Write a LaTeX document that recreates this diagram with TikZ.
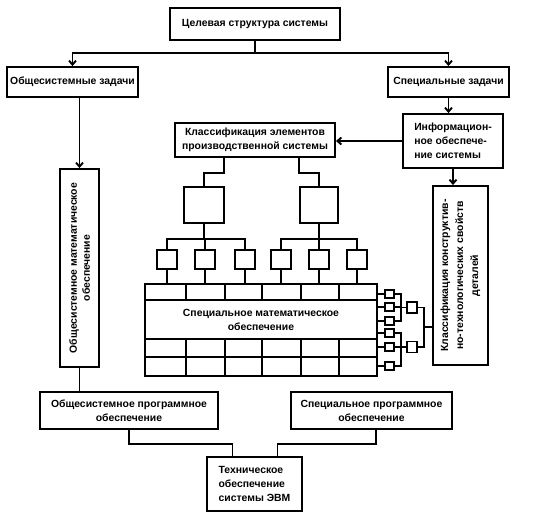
\documentclass[tikz,border=0pt]{standalone}
\usepackage{fontspec}
\setmainfont{Liberation Sans}
\usetikzlibrary{arrows.meta}

\begin{document}
\begin{tikzpicture}[x=1pt,y=-1pt,line width=1.9pt,>={Straight Barb[length=4pt,width=7pt]},
    font=\bfseries\fontsize{10.4}{14}\selectfont]
    \tikzstyle{block}=[draw,inner sep=2pt,align=center]
    \tikzstyle{cell}=[draw,inner sep=0pt,line width=1.6pt]
    \tikzstyle{mid cell}=[cell,minimum width=40pt,minimum height=36pt]
    \tikzstyle{small cell}=[cell,minimum width=20pt,minimum height=19pt]
    \tikzstyle{tiny cell}=[cell,minimum width=9.5pt,minimum height=8.5pt]

    \useasboundingbox (0,0) rectangle (534,518);

    % Draw the upper blocks
    \node[block,minimum width=170pt,minimum height=32pt] (goal) at (255,24) {Целевая структура системы};
    \node[block,minimum width=131pt,minimum height=30pt] (gentask) at (72.5,82) {Общесистемные задачи};
    \node[block,minimum width=121pt,minimum height=30pt] (spectask) at (448.5,82) {Специальные задачи};
    \node[block,minimum width=100pt,minimum height=54pt,align=left] (info) at (453,141)
        {Информацион-\\ное обеспече-\\ние системы};
    \node[block,minimum width=160pt,minimum height=34pt] (klass) at (255,140)
        {Классификация элементов\\производственной системы};

    % Draw the two tall blocks, text turned upwards
    \node[block,minimum width=39pt,minimum height=198pt] (genmath) at (79.5,268) {};
    \node[rotate=90,align=center,font=\bfseries\fontsize{10.4}{13}\selectfont] at (genmath)
        {Общесистемное математическое\\обеспечение};
    \node[block,minimum width=55pt,minimum height=179pt] (detail) at (460.5,275.5) {};
    \node[rotate=90,align=center,font=\bfseries\fontsize{10.4}{15}\selectfont] at (detail)
        {Классификация конструктив-\\но-технологических свойств\\деталей};

    % Draw the lower blocks
    \node[block,minimum width=178pt,minimum height=37pt] (genprog) at (129,410.5)
        {Общесистемное программное\\обеспечение};
    \node[block,minimum width=161pt,minimum height=37pt] (specprog) at (371.5,410.5)
        {Специальное программное\\обеспечение};
    \node[block,minimum width=95pt,minimum height=54pt,align=left] (tech) at (254.5,484)
        {Техническое\\обеспечение\\системы ЭВМ};

    % Draw the tree of element cells
    \node[mid cell] (m1) at (204,205) {};
    \node[mid cell,minimum width=38pt] (m2) at (319,205) {};
    \foreach \name / \x in {1/167,2/205,3/245,4/281,5/319,6/357}
        \node[small cell] (s-\name) at (\x,259.5) {};

    % Draw the table of the special software
    \node[draw,minimum width=232pt,minimum height=92pt] (grid) at (261,330) {};
    \node[align=center] (smo) at (261,319.5) {Специальное математическое\\обеспечение};
    \foreach \y in {300,339,357}
        \draw (145,\y) -- (377,\y);
    \foreach \x in {186,225,262,301,339} {
        \draw (\x,284) -- (\x,300);
        \draw (\x,339) -- (\x,376);
    }

    % Draw the cells at the right of the table
    \foreach \name / \y in {1/294,2/307,3/321,4/333,5/347,6/366}
        \node[tiny cell] (r-\name) at (389.5,\y) {};
    \node[tiny cell,minimum height=11pt] (q-1) at (412,307.5) {};
    \node[tiny cell,minimum height=11pt] (q-2) at (412,347) {};
    \coordinate (bus) at (424,327);

    % Connect the blocks
    \draw (goal.south) -- ++(0,12) coordinate (top);
    \draw[->] (top) -| (gentask.north);
    \draw[->] (top) -| (spectask.north);
    \draw[->] (gentask.south -| genmath) -- (genmath.north);
    \draw[->] (spectask.south) -- (spectask.south |- info.north);
    \draw[->] (info.west) -- (info.west -| klass.east);
    \draw[->] (info.south) -- (info.south |- detail.north);
    \draw (genmath.south) -- (genmath.south |- genprog.north);
    \draw (genprog.south) -- ++(0,14) -| ([xshift=-22pt]tech.north);
    \draw (specprog.south) ++(4.5,0) -- ++(0,14) -| ([xshift=23pt]tech.north);

    % Connect the classification with the cells
    \draw ([xshift=50pt]klass.south west) -- ++(0,15) -| (m1.north);
    \draw ([xshift=-37pt]klass.south east) -- ++(0,15) -| (m2.north);
    \foreach \dest in {1,2,3}
        \draw (m1.south) -- ++(0,15) -| (s-\dest.north);
    \foreach \dest in {4,5,6}
        \draw (m2.south) -- ++(0,15) -| (s-\dest.north);
    \foreach \source in {1,...,6}
        \draw (s-\source.south) -- (s-\source.south |- grid.north);

    \foreach \dest in {1,...,6}
        \draw (r-\dest.west -| grid.east) -- (r-\dest.west);
    \foreach \source in {1,2,3}
        \draw (r-\source.east) -- ++(6,0) |- (q-1.west);
    \foreach \source in {4,5,6}
        \draw (r-\source.east) -- ++(6,0) |- (q-2.west);
    \draw (q-1.east) -| (bus) |- (q-2.east);
    \draw (bus) -- (bus -| detail.west);

\end{tikzpicture}
\end{document}
